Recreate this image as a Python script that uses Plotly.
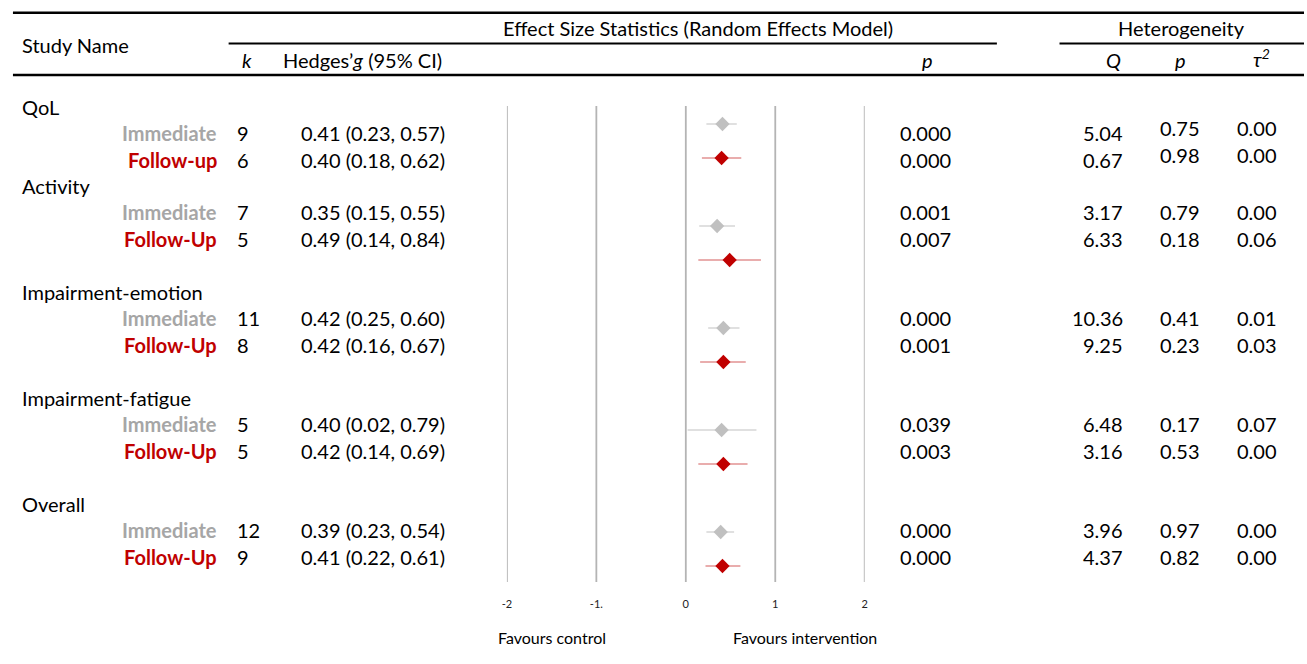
import plotly.graph_objects as go

# ---------------- data ----------------
groups = ["QoL", "Activity", "Impairment-emotion", "Impairment-fatigue", "Overall"]
imm_labels = ["Immediate", "Immediate", "Immediate", "Immediate", "Immediate"]
fu_labels = ["Follow-up", "Follow-Up", "Follow-Up", "Follow-Up", "Follow-Up"]

k_imm = [9, 7, 11, 5, 12]
k_fu = [6, 5, 8, 5, 9]

g_imm = [0.41, 0.35, 0.42, 0.40, 0.39]
lo_imm = [0.23, 0.15, 0.25, 0.02, 0.23]
hi_imm = [0.57, 0.55, 0.60, 0.79, 0.54]

g_fu = [0.40, 0.49, 0.42, 0.42, 0.41]
lo_fu = [0.18, 0.14, 0.16, 0.14, 0.22]
hi_fu = [0.62, 0.84, 0.67, 0.69, 0.61]

p_imm = [0.000, 0.001, 0.000, 0.039, 0.000]
p_fu = [0.000, 0.007, 0.001, 0.003, 0.000]

Q_imm = [5.04, 3.17, 10.36, 6.48, 3.96]
Q_fu = [0.67, 6.33, 9.25, 3.16, 4.37]

hp_imm = [0.75, 0.79, 0.41, 0.17, 0.97]
hp_fu = [0.98, 0.18, 0.23, 0.53, 0.82]

tau_imm = [0.00, 0.00, 0.01, 0.07, 0.00]
tau_fu = [0.00, 0.06, 0.03, 0.00, 0.00]

tick_vals = [-2, -1, 0, 1, 2]
tick_text = ["-2", "-1.", "0", "1", "2"]

# ---------------- layout helpers ----------------
W, H = 1307, 664
FONT = "Lato"
FS = 20
GREY_TXT = "#a6a6a6"
RED = "#c00000"
GREY_MK = "#c0c0c0"


def px(x):
    return x / W


# text row layout (vertical positions in pixel units on reversed y axis)
group_y = [107, 186, 292, 398, 504]
sub_off = [26, 53]
# marker row layout
mk_y0, mk_step, mk_off = 124, 102, 34
y_imm_mk = [mk_y0 + mk_step * i for i in range(len(groups))]
y_fu_mk = [mk_y0 + mk_step * i + mk_off for i in range(len(groups))]

fig = go.Figure()

fig.add_trace(go.Scatter(
    x=g_imm, y=y_imm_mk, mode="markers", name="Immediate",
    marker=dict(symbol="diamond", size=11, color=GREY_MK),
    error_x=dict(type="data", symmetric=False,
                 array=[h - g for h, g in zip(hi_imm, g_imm)],
                 arrayminus=[g - l for g, l in zip(g_imm, lo_imm)],
                 color="#d6d6d6", thickness=1.5, width=0),
    showlegend=False, hoverinfo="x",
))
fig.add_trace(go.Scatter(
    x=g_fu, y=y_fu_mk, mode="markers", name="Follow-up",
    marker=dict(symbol="diamond", size=11, color=RED),
    error_x=dict(type="data", symmetric=False,
                 array=[h - g for h, g in zip(hi_fu, g_fu)],
                 arrayminus=[g - l for g, l in zip(g_fu, lo_fu)],
                 color="rgba(200,50,50,0.8)", thickness=1.2, width=0),
    showlegend=False, hoverinfo="x",
))

annotations = []


def ann(x, y, text, anchor="left", size=FS, color="black"):
    annotations.append(dict(
        x=px(x), y=y, xref="paper", yref="y", text=text, showarrow=False,
        xanchor=anchor, yanchor="middle", borderpad=0,
        font=dict(family=FONT, size=size, color=color),
    ))


# header
ann(16, 45, "Study Name")
ann(697, 28, "Effect Size Statistics (Random Effects Model)", anchor="center")
ann(1184, 28, "Heterogeneity", anchor="center")
ann(237, 60, "<i>k</i>")
ann(279, 60, "Hedges’<i>g</i> (95% CI)")
ann(928, 60, "<i>p</i>", anchor="center")
ann(1115, 60, "<i>Q</i>", anchor="center")
ann(1183, 60, "<i>p</i>", anchor="center")
ann(1264, 58, "<i>τ<sup>2</sup></i>", anchor="center")

# het p / tau shift for first group (as in source)
het_shift = [-5, 0, 0, 0, 0]

for i, grp in enumerate(groups):
    gy = group_y[i]
    ann(16, gy, grp)
    rows = [
        (imm_labels[i], GREY_TXT, k_imm[i], g_imm[i], lo_imm[i], hi_imm[i],
         p_imm[i], Q_imm[i], hp_imm[i], tau_imm[i]),
        (fu_labels[i], RED, k_fu[i], g_fu[i], lo_fu[i], hi_fu[i],
         p_fu[i], Q_fu[i], hp_fu[i], tau_fu[i]),
    ]
    for j, (lab, col, k, g, lo, hi, p, q, hp, tau) in enumerate(rows):
        y = gy + sub_off[j]
        ann(214, y, f"<b>{lab}</b>", anchor="right", color=col)
        ann(232, y, f"{k}")
        ann(297, y, f"{g:.2f} ({lo:.2f}, {hi:.2f})")
        ann(900, y, f"{p:.3f}")
        ann(1126, y, f"{q:.2f}", anchor="right")
        ann(1161, y + het_shift[i], f"{hp:.2f}")
        ann(1239, y + het_shift[i], f"{tau:.2f}")

# footer labels
ann(550, 637, "Favours control", anchor="center", size=16)
ann(805, 637, "Favours intervention", anchor="center", size=16)

shapes = []


def hline(x0, x1, y, w):
    shapes.append(dict(type="line", xref="paper", yref="y",
                       x0=px(x0), x1=px(x1), y0=y, y1=y,
                       line=dict(color="black", width=w)))


hline(8, W, 12.7, 2.5)
hline(225, 998, 43.5, 2)
hline(1061, W, 43.5, 2)
hline(8, W, 75, 2.5)

for t in tick_vals:
    shapes.append(dict(type="line", xref="x", yref="y", x0=t, x1=t,
                       y0=106, y1=582, line=dict(color="#b4b4b4", width=1.8),
                       layer="below"))

fig.update_layout(
    width=W, height=H,
    margin=dict(l=0, r=0, t=0, b=0),
    paper_bgcolor="white", plot_bgcolor="rgba(0,0,0,0)",
    annotations=annotations, shapes=shapes,
    xaxis=dict(domain=[px(505), px(865)], range=[-2, 2],
               showgrid=False, zeroline=False, showline=False,
               tickvals=tick_vals, ticktext=tick_text, ticks="",
               tickfont=dict(family=FONT, size=11, color="#222"),
               anchor="free", position=(H - 596) / H, fixedrange=True),
    yaxis=dict(domain=[0, 1], range=[H, 0], visible=False, fixedrange=True),
    font=dict(family=FONT),
)

fig.write_html("out.html", config={"displayModeBar": False},
               post_script="document.body.style.margin='0';document.body.style.padding='0';")
